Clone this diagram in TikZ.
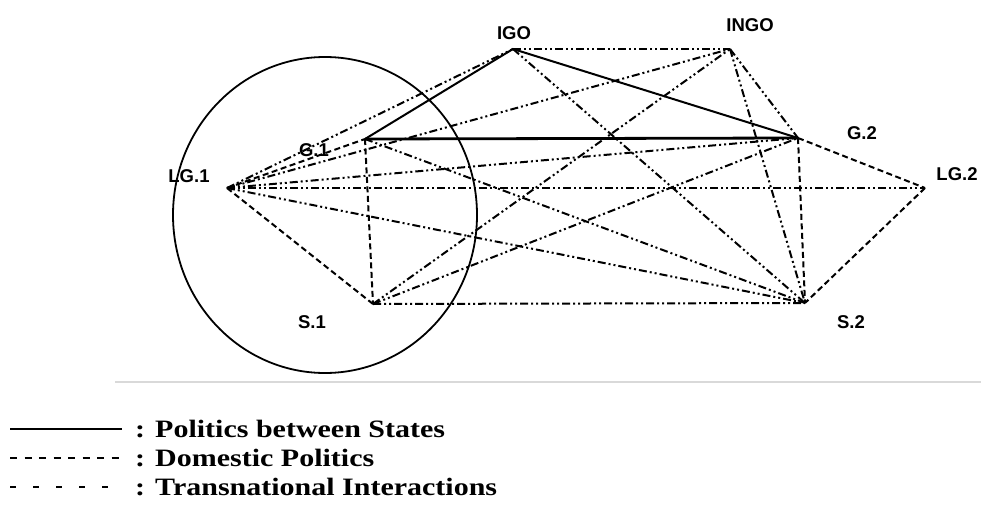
\documentclass[tikz,border=0pt]{standalone}
\usepackage{fontspec}
\setmainfont{Liberation Serif}
\setsansfont{Liberation Sans}
\usetikzlibrary{calc, positioning}

\newcommand{\legwide}[1]{\scalebox{1.2}[1]{#1}}

\begin{document}
\begin{tikzpicture}[x=1pt,y=-1pt,
    every node/.style={font=\sffamily\bfseries\fontsize{18.5}{18.5}\selectfont},
    states/.style={line width=2pt},
    domestic/.style={line width=2pt, dash pattern=on 6pt off 3.5pt},
    transnat/.style={line width=2pt, dash pattern=on 8pt off 3pt on 2pt off 3pt on 2pt off 3pt},
    legendtxt/.style={font=\rmfamily\bfseries\fontsize{25}{25}\selectfont, anchor=base west, inner sep=0pt}]
            \useasboundingbox (0,0) rectangle (981,505);

            % actors
            \coordinate (LG1) at (227,188);
            \coordinate (G1) at (365,139);
            \coordinate (S1) at (373,304);
            \coordinate (IGO) at (513,49);
            \coordinate (INGO) at (730,49);
            \coordinate (G2) at (798,138);
            \coordinate (LG2) at (925,188);
            \coordinate (S2) at (805,303);

            \node (lLG1) at (189,176) {LG.1};
            \node (lG1) at (314,150) {G.1};
            \node (lS1) at (312,322) {S.1};
            \node (lIGO) at (514,33) {IGO};
            \node (lINGO) at (750,25) {INGO};
            \node (lG2) at (862,133) {G.2};
            \node (lLG2) at (957,174) {LG.2};
            \node (lS2) at (851,322) {S.2};

            % state 1
            \draw[line width=1.8pt] (325,215) ellipse [x radius=152, y radius=158];

            \draw[states] (G1) -- (IGO) -- (G2);
            \draw[states, line width=2.8pt] (G1) -- (G2);
            \draw[domestic] (LG1) -- (G1);
            \draw[domestic] (LG1) -- (S1);
            \draw[domestic] (G1) -- (S1);
            \draw[domestic] (G2) -- (LG2);
            \draw[domestic] (LG2) -- (S2);
            \draw[domestic] (G2) -- (S2);
            \foreach \a/\b in {LG1/IGO, LG1/INGO, LG1/G2, LG1/LG2, LG1/S2, G1/S2, S1/INGO,
                               S1/G2, S1/S2, IGO/INGO, IGO/S2, INGO/G2, INGO/S2}
                \draw[transnat] (\a) -- (\b);

            %\draw (0,0) -- (981,0);
            \draw[black!15, line width=1.5pt] (115,382) -- (981,382);

            % legend
            \coordinate (k1) at (10,429);
            \coordinate (k2) at (10,458);
            \coordinate (k3) at (10,487);
            \draw[line width=1.8pt] (k1) -- ++(112,0);
            \draw[line width=1.5pt, dash pattern=on 7pt off 7.5pt] (k2) -- ++(112,0);
            \draw[line width=1.5pt, dash pattern=on 6pt off 17pt] (k3) -- ++(112,0);
            \node[legendtxt] (t1) at (135,437) {\legwide{: Politics between States}};
            \node[legendtxt] (t2) at (135,466) {\legwide{: Domestic Politics}};
            \node[legendtxt] (t3) at (135,495) {\legwide{: Transnational Interactions}};
\end{tikzpicture}
\end{document}
